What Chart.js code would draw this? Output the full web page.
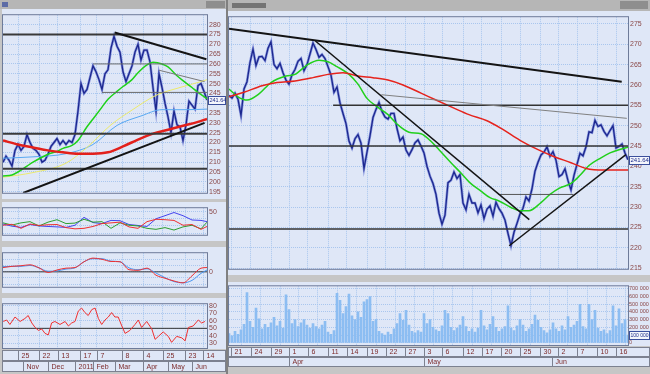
<!DOCTYPE html>
<html>
<head>
<meta charset="utf-8">
<script src="https://cdn.jsdelivr.net/npm/chart.js@4.4.1/dist/chart.umd.min.js"></script>
<style>
    html, body { margin: 0; padding: 0; }
    body { width: 650px; height: 374px; background: #c6c6c6; position: relative; overflow: hidden; }
    canvas { position: absolute; }
    .chrome { position: absolute; }
</style>
</head>
<body>
<!-- window chrome -->
<div class="chrome" style="left:0;top:0;width:226px;height:9px;background:#b6b6b6"></div>
<div class="chrome" style="left:2px;top:2px;width:6px;height:5px;background:#5d6ca6"></div>
<div class="chrome" style="left:206px;top:1px;width:19px;height:7px;background:#8e8e8e"></div>
<div class="chrome" style="left:226px;top:0;width:2px;height:374px;background:#808080"></div>
<div class="chrome" style="left:228px;top:0;width:422px;height:11px;background:#b6b6b6"></div>
<div class="chrome" style="left:232px;top:3px;width:34px;height:5px;background:#747474"></div>
<div class="chrome" style="left:620px;top:1px;width:28px;height:8px;background:#8e8e8e"></div>

<canvas id="leftPrice" width="224" height="190" style="left:2px;top:9px"></canvas>
<canvas id="leftInd1" width="224" height="39" style="left:2px;top:202px"></canvas>
<canvas id="leftInd2" width="224" height="46" style="left:2px;top:247px"></canvas>
<canvas id="leftInd3" width="224" height="76" style="left:2px;top:298px"></canvas>
<canvas id="rightPrice" width="422" height="264" style="left:228px;top:11px"></canvas>
<canvas id="rightVol" width="422" height="88" style="left:228px;top:282px"></canvas>

<script>
// --- Left window (daily, Oct - Jun) ---
const leftPrice = [210,213,211,208,216,219,216,218,224,220,
    217,216,214,210,211,214,218,220,222,219,
    221,219,221,220,224,236,250,245,247,253,
    259,256,252,247,255,257,268,274,269,266,
    256,251,255,259,266,270,262,267,267,261,
    248,236,255,248,240,233,225,236,229,228,
    221,229,241,239,237,249,250,246,241.64];
const leftRedMa = [[0,221],[5,219],[10,217.5],[15,216],[20,215],[25,214.3],[30,214.3],[35,215],[40,218],[45,221.5],[50,224.5],[55,226.5],[60,228.5],[65,230.5],[68,232]];
const leftGreenMa = [[0,203],[3,203.5],[5,205],[8,208],[10,210],[13,212.5],[15,214],[18,215.5],[20,217],[23,218.5],[25,221],[28,228],[30,232],[33,238],[35,242],[38,246],[40,248.5],[43,252],[45,255.5],[48,259.5],[50,260.8],[53,260],[55,258.5],[58,254],[60,251.5],[63,248],[65,245.5],[68,242.3]];
const leftYellowMa = [[0,202.3],[10,204.7],[21,209.5],[28,217.5],[36,229],[43,236.5],[51,244],[59,248],[66,251],[68,252]];
const leftBlueMa = [[0,212],[10,212.7],[21,214.3],[30,219],[38,228.7],[46,233.5],[53,236.7],[61,236.7],[68,237]];
const leftMajorLevels = [275, 224.5, 206.6];
const leftMinorLevels = [[30, 260], [33, 245.5]];          // [from index, price]
const leftTrends = [[37.2, 276, 67.8, 262.4], [6.7, 194.3, 67.2, 230]];
const leftThinTrends = [[52, 256.8, 67.2, 251]];
const leftPriceTicks = [195,200,205,210,215,220,225,230,235,240,245,250,255,260,265,270,275,280];

// indicator panels (same index as leftPrice)
const indIdx = [0,3,6,9,12,15,18,21,24,27,30,33,36,39,42,45,48,51,54,57,60,63,66,68];
const ind1Blue = [32.7,29.7,28,32,30,29.3,28.7,28,31,42,34.7,33.3,37.7,37.3,32,30.7,29.3,40,44.3,48.7,44.3,38.3,37.7,36];
const ind1Red = [31,32.3,26.7,32.7,30.7,31.7,32,27.7,26,26.7,29.3,33.3,34.3,35.3,28.7,26.7,36,39.3,38.7,37.7,31,32,25.3,29.3];
const ind1Green = [34.3,31.3,34.3,36,30,35.3,38.7,33.3,34,39.3,35.3,36,26.7,34.3,31,30,26.7,25.3,27.7,24.3,28.7,31,26,35.3];
const ind1Ticks = [20, 30, 40, 50];
const ind1Labeled = [50];
const ind2Red = [1.4,1.8,2,2.3,1.3,-0.2,0.6,1.2,1.4,3.3,4.5,4.1,3.4,3.3,0.7,0.5,1.2,-1.1,-2.1,-3,-3.6,-1.3,1.2,1.4];
const ind2Blue = [1.7,1.8,1.8,2.1,1.3,0.2,0.3,0.9,1.3,3.3,4.3,4.3,3.5,3.3,1.3,0.7,1,-0.4,-1.9,-3.2,-3.6,-2.8,-0.5,0.6];
const ind2Ticks = [-4, -2, 0, 2, 4];
const ind2Labeled = [0];
const rsi = [[0.1,59.2],[1.2,61.2],[2.3,55.2],[4,65.2],[5.7,59.2],[7.3,63.2],[8.4,67.2],[9.6,57.2],[10.7,51.2],[11.8,47.2],
    [12.9,49.2],[14,43.2],[15.1,41.2],[16.2,57.2],[17.3,59.2],[19,55.2],[20.7,59.2],[21.8,53.2],[22.9,57.2],[24,59.2],
    [25.1,73.2],[26.2,77.2],[27.3,71.2],[28.4,67.2],[29.6,75.2],[30.7,77.2],[31.8,63.2],[32.9,55.2],[34,61.2],[35.1,65.2],
    [36.2,71.2],[37.3,65.2],[38.4,65.2],[39.6,53.2],[40.7,43.2],[42.3,47.2],[44,55.2],[45.1,61.2],[46.2,51.2],[47.9,59.2],
    [49.6,49.2],[50.7,35.2],[51.8,39.2],[53.4,45.2],[55.1,39.2],[56.2,31.2],[57.9,39.2],[59.6,37.2],[60.7,33.2],[61.8,51.2],
    [63.4,53.2],[65.1,61.2],[66.2,57.2],[67.3,59.2]];
const rsiTicks = [30, 40, 50, 60, 70, 80];
const rsiMid = 50;

const leftDays = ['25','22','13','17','7','8','4','25','23','14'];
const leftDayIdx = [5, 12, 18.3, 25.7, 31.3, 39.7, 46.7, 53.3, 60.7, 66.7];
const leftMonths = ['Nov','Dec','2011','Feb','Mar','Apr','May','Jun'];
const leftMonthIdx = [6.7, 15, 24, 30, 37.3, 46.7, 55, 63];

// --- Right window (intraday, Mar - Jun) ---
const rightPrice = [257.4,256.8,258,256.5,252.5,259,260.8,265.5,268.8,264.8,
    266.9,267,266,269,270.6,265,264,265.3,263,261.2,
    260.2,262.5,263.8,265.8,266.5,263.5,265,267.6,270.3,268.7,
    266.8,267.5,266.5,264.5,262.4,258.2,259.5,255.6,253,250.5,
    246.2,244.5,246.8,247.8,245.7,239.5,243.5,247.5,252,254,
    255.7,253.5,252.1,251.6,253,253,249.3,246.3,247.2,244,
    242.7,244.1,245.8,246.5,245,243.3,240,237.6,235.8,233.1,
    228.5,225.8,228,236,236.6,238.6,237,238,231,229.3,
    233.1,231,231,228.6,230.5,227.2,229.5,230.3,227.8,231.2,
    229.6,228.5,226.8,223.5,220.5,223.8,226,228.3,229.7,232.5,
    231.5,234.5,238.8,241,242.8,243.5,244.8,242.5,243.6,241.5,
    237.5,238,239.4,236.5,234.2,237.8,240.5,243.2,242.6,244.8,
    248.5,248.3,251.3,249.8,250.2,248.6,247.5,248.8,250,244.5,
    244.9,245.5,243.3,241.64];
const rightRedMa = [[0,257.1],[5,258.2],[11,259.8],[16,260.6],[22,261],[28,261.8],[33,262.6],[38,263],[43,262.2],[48,261.8],[53,261.2],[58,260],[64,258],[69,256.3],[75,254.3],[80,252.7],[86,251.2],[91,249.2],[97,246.4],[103,244.1],[108,242.5],[114,240.9],[119,239.5],[125,239.1],[133,239.1]];
const rightGreenMa = [[0,259],[3,257.1],[6,256.3],[10,257.8],[14,260.6],[19,262.2],[22,262.6],[26,264.9],[30,266.1],[33,265.7],[36,264.5],[40,262.6],[43,260.2],[46,256.7],[50,254.3],[53,252.7],[56,250.4],[60,248.4],[64,248],[67,246.4],[70,244.1],[74,240.9],[77,238.6],[80,236.2],[84,233.9],[87,232.3],[90,231.5],[94,229.9],[97,229.1],[100,229.1],[104,231.1],[107,233.1],[110,234.6],[114,235.8],[117,237.8],[120,240.2],[124,242.1],[127,243.3],[130,244.1],[133,244.7]];
const rightMajorLevels = [245, 224.6];
const rightMinorLevels = [[34.7, 133, 255]];             // [from, to, price]
const rightShortLevels = [[89.8, 114.8, 233.1]];
const rightTrends = [[0, 273.8, 130.9, 260.8], [28.8, 270.8, 100.1, 226.9], [93.4, 220.5, 132.3, 242.9]];
const rightThinTrends = [[50.8, 257.6, 132.6, 251.8]];
const rightPriceTicks = [215,220,225,230,235,240,245,250,255,260,265,270,275];

// volume in thousands
const rightVolume = [120,90,150,110,170,240,650,280,200,450,
    310,180,240,200,260,330,220,280,190,620,
    430,250,300,210,260,300,230,190,250,210,
    180,230,280,140,110,160,640,550,380,470,
    630,350,300,400,330,530,560,600,280,300,
    150,120,100,140,110,180,250,380,290,420,
    230,150,130,160,140,380,250,300,200,170,
    150,220,420,380,200,160,190,230,340,210,
    150,180,140,190,420,220,170,240,340,200,
    150,180,210,480,190,160,220,300,230,150,
    180,240,360,290,200,160,130,170,260,180,
    150,220,170,340,200,230,280,500,210,180,
    500,300,420,190,150,170,120,160,480,220,
    440,250,300,100];
const volTicks = [0,100,200,300,400,500,600,700];

const rightDays = ['21','24','29','1','6','11','14','19','22','27','3','6','12','17','20','25','30','2','7','10','16'];
const rightDayIdx = [0.7,7.3,14,20,26.3,33,39.3,46,52.3,58.7,65,71,78,84.3,90.7,97,103.7,109.7,116,122.7,129];
const rightMonths = ['Apr','May','Jun'];
const rightMonthIdx = [20, 65, 107.7];

// --- styling ---
const PLOT_BG = '#dfe7f7';
const GRID = '#a9c6ee';
const TICK_COLOR = '#8a4848';
const FONT = 'Liberation Sans';

const pts = arr => arr.map((v, i) => ({ x: i, y: v }));
const pairs = arr => arr.map(([x, y]) => ({ x, y }));

function line(data, color, width, order, smooth) {
    return {
        type: 'line', data, borderColor: color, borderWidth: width, pointRadius: 0,
        fill: false, tension: 0, order, cubicInterpolationMode: smooth ? 'monotone' : 'default'
    };
}
function seg(x1, y1, x2, y2, color, width, order) {
    return line([{ x: x1, y: y1 }, { x: x2, y: y2 }], color, width, order);
}

// background + frame for each panel
const panelPlugin = {
    id: 'panel',
    beforeDraw(chart) {
        const { ctx, width, height } = chart;
        ctx.save();
        ctx.fillStyle = PLOT_BG;
        ctx.fillRect(0, 0, width, height);
        ctx.restore();
    },
    afterDraw(chart) {
        const { ctx, chartArea: a } = chart;
        ctx.save();
        ctx.strokeStyle = '#6e7b99';
        ctx.lineWidth = 1;
        ctx.strokeRect(a.left - 0.5, a.top - 0.5, a.right - a.left + 1, a.bottom - a.top + 1);
        ctx.restore();
    }
};

// boxed label with the last value on the value axis
const lastTagPlugin = {
    id: 'lastTag',
    afterDraw(chart, args, o) {
        const { ctx, chartArea: a, scales: { y }, width } = chart;
        const py = Math.round(y.getPixelForValue(o.value));
        ctx.save();
        ctx.font = `${o.size || 6}px "${FONT}"`;
        const w = Math.min(Math.ceil(ctx.measureText(o.text).width) + 3, width - a.right - 1);
        ctx.fillStyle = '#f4f6fc';
        ctx.fillRect(a.right + 1, py - 4, w, 9);
        ctx.strokeStyle = '#3a4f9c';
        ctx.strokeRect(a.right + 1.5, py - 3.5, w - 1, 8);
        ctx.fillStyle = '#1d2c8a';
        ctx.textBaseline = 'middle';
        ctx.fillText(o.text, a.right + 2.5, py + 0.5);
        ctx.restore();
    }
};

// two boxed rows of day / month labels under the bottom panel
const dateAxisPlugin = {
    id: 'dateAxis',
    afterDraw(chart, args, o) {
        const { ctx, chartArea: a, scales: { x }, width, height } = chart;
        const top = a.bottom + o.gap;
        ctx.save();
        ctx.fillStyle = '#c6c6c6';
        ctx.fillRect(0, a.bottom + 1, width, height - a.bottom - 1);
        ctx.fillStyle = PLOT_BG;
        ctx.fillRect(a.left - 1, top, width - a.left + 1, o.rowH * 2);
        ctx.strokeStyle = '#7c8190';
        ctx.lineWidth = 1;
        ctx.font = `7px "${FONT}"`;
        ctx.textBaseline = 'middle';
        [[top, o.days, o.dayIdx], [top + o.rowH, o.months, o.monthIdx]].forEach(([ry, labels, idx]) => {
            ctx.strokeRect(a.left - 0.5, ry + 0.5, width - a.left, o.rowH - 1);
            idx.forEach((v, k) => {
                const px = Math.round(x.getPixelForValue(v)) + 0.5;
                ctx.beginPath();
                ctx.moveTo(px, ry);
                ctx.lineTo(px, ry + o.rowH);
                ctx.stroke();
                ctx.fillStyle = '#7c2a2a';
                ctx.fillText(labels[k], px + 3, ry + o.rowH / 2 + 0.5);
            });
        });
        ctx.restore();
    }
};

function panelOptions(cfg) {
    return {
        responsive: false,
        animation: false,
        devicePixelRatio: 1,
        events: [],
        layout: { padding: { left: 1, top: 1, right: 0, bottom: cfg.bottomPad || 1 } },
        plugins: {
            legend: { display: false },
            tooltip: { enabled: false },
            lastTag: cfg.tag || {},
            dateAxis: cfg.dates || {}
        },
        scales: {
            x: {
                type: 'linear', min: 0, max: cfg.xMax, offset: false,
                afterBuildTicks: s => { s.ticks = cfg.xGrid.map(v => ({ value: v })); },
                afterFit: s => { s.height = 0; },
                ticks: { display: false },
                grid: { color: GRID, drawTicks: false },
                border: { display: false, dash: [1, 1] }
            },
            y: {
                position: 'right', min: cfg.yMin, max: cfg.yMax,
                afterBuildTicks: s => { s.ticks = cfg.yTicks.map(v => ({ value: v })); },
                afterFit: s => { s.width = cfg.axisWidth; },
                ticks: {
                    autoSkip: false, padding: cfg.tickPad || 2, color: TICK_COLOR,
                    font: { family: FONT, size: cfg.tickSize || 7 },
                    callback: cfg.yLabel || (v => String(v))
                },
                grid: { color: GRID, drawTicks: false },
                border: { display: false, dash: [1, 1] }
            }
        }
    };
}

// --- left price ---
const leftSets = [];
leftTrends.forEach(t => leftSets.push(seg(t[0], t[1], t[2], t[3], '#141414', 2, 0)));
leftThinTrends.forEach(t => leftSets.push(seg(t[0], t[1], t[2], t[3], '#7a7a7a', 1, 0)));
leftMajorLevels.forEach(l => leftSets.push(seg(0, l, 68, l, '#3a3a3a', 2, 1)));
leftMinorLevels.forEach(l => leftSets.push(seg(l[0], l[1], 68, l[1], '#6a6a6a', 1, 1)));
leftSets.push(line(pairs(leftRedMa), '#e3201b', 2.5, 2, true));
leftSets.push(line(pairs(leftGreenMa), '#1fd21a', 1.5, 2, true));
leftSets.push(line(pairs(leftYellowMa), '#ecea6c', 1, 2, true));
leftSets.push(line(pairs(leftBlueMa), '#58a8f2', 1, 2, true));
leftSets.push(line(pts(leftPrice), '#1c278e', 1.3, 3));
leftSets.push(line(pts(leftPrice), '#8896de', 2.6, 4));

const leftLast = leftPrice[leftPrice.length - 1];
new Chart(document.getElementById('leftPrice'), {
    type: 'line',
    data: { datasets: leftSets },
    options: panelOptions({
        xMax: 68, xGrid: leftDayIdx, yMin: 194.4, yMax: 284.8, yTicks: leftPriceTicks, axisWidth: 19,
        tag: { value: leftLast, text: leftLast.toFixed(2), size: 5.5 }
    }),
    plugins: [panelPlugin, lastTagPlugin]
});

// --- left indicators ---
const onIdx = vals => vals.map((v, k) => ({ x: indIdx[k], y: v }));
new Chart(document.getElementById('leftInd1'), {
    type: 'line',
    data: { datasets: [
        line(onIdx(ind1Red), '#ef3030', 1, 0),
        line(onIdx(ind1Green), '#2e9e2e', 1, 1),
        line(onIdx(ind1Blue), '#4444ee', 1, 2)
    ] },
    options: panelOptions({
        xMax: 68, xGrid: leftDayIdx, yMin: 17.7, yMax: 54.7, yTicks: ind1Ticks, axisWidth: 19,
        yLabel: v => ind1Labeled.includes(v) ? String(v) : ''
    }),
    plugins: [panelPlugin]
});

new Chart(document.getElementById('leftInd2'), {
    type: 'line',
    data: { datasets: [
        seg(0, 0, 68, 0, '#333333', 1, 2),
        line(onIdx(ind2Red), '#ef3030', 1, 0, true),
        line(onIdx(ind2Blue), '#4a96f0', 1, 1, true)
    ] },
    options: panelOptions({
        xMax: 68, xGrid: leftDayIdx, yMin: -4.9, yMax: 6.1, yTicks: ind2Ticks, axisWidth: 19,
        yLabel: v => ind2Labeled.includes(v) ? String(v) : ''
    }),
    plugins: [panelPlugin]
});

new Chart(document.getElementById('leftInd3'), {
    type: 'line',
    data: { datasets: [
        seg(0, rsiMid, 68, rsiMid, '#333333', 1, 1),
        line(pairs(rsi), '#ef3030', 1, 0)
    ] },
    options: panelOptions({
        xMax: 68, xGrid: leftDayIdx, yMin: 23.6, yMax: 82.4, yTicks: rsiTicks, axisWidth: 19, bottomPad: 26,
        dates: { gap: 2, rowH: 11, days: leftDays, dayIdx: leftDayIdx, months: leftMonths, monthIdx: leftMonthIdx }
    }),
    plugins: [panelPlugin, dateAxisPlugin]
});

// --- right price ---
const rightSets = [];
rightTrends.forEach((t, k) => rightSets.push(seg(t[0], t[1], t[2], t[3], '#141414', k === 0 ? 2 : 1.5, 0)));
rightThinTrends.forEach(t => rightSets.push(seg(t[0], t[1], t[2], t[3], '#808080', 1, 0)));
rightMajorLevels.forEach(l => rightSets.push(seg(0, l, 133, l, '#333333', 1.5, 1)));
rightMinorLevels.forEach(l => rightSets.push(seg(l[0], l[2], l[1], l[2], '#333333', 1.5, 1)));
rightShortLevels.forEach(l => rightSets.push(seg(l[0], l[2], l[1], l[2], '#555555', 1, 1)));
rightSets.push(line(pairs(rightRedMa), '#e6231c', 1.5, 2, true));
rightSets.push(line(pairs(rightGreenMa), '#22d01c', 1.5, 2, true));
rightSets.push(line(pts(rightPrice), '#1c278e', 1.3, 3));
rightSets.push(line(pts(rightPrice), '#8896de', 2.6, 4));

const rightLast = rightPrice[rightPrice.length - 1];
new Chart(document.getElementById('rightPrice'), {
    type: 'line',
    data: { datasets: rightSets },
    options: panelOptions({
        xMax: 133, xGrid: rightDayIdx, yMin: 214.83, yMax: 276.65, yTicks: rightPriceTicks, axisWidth: 22,
        tag: { value: rightLast, text: rightLast.toFixed(2), size: 6 }
    }),
    plugins: [panelPlugin, lastTagPlugin]
});

// --- right volume ---
const volLabel = v => v === 0 ? '0' : v + ' 000';
const volLast = rightVolume[rightVolume.length - 1];
new Chart(document.getElementById('rightVol'), {
    type: 'bar',
    data: { datasets: [{
        data: pts(rightVolume), backgroundColor: '#8cbdf2', barThickness: 2, borderWidth: 0
    }] },
    options: panelOptions({
        xMax: 133, xGrid: rightDayIdx, yMin: -28, yMax: 732, yTicks: volTicks, axisWidth: 22, bottomPad: 25,
        tickSize: 5.5, tickPad: 1, yLabel: volLabel,
        tag: { value: volLast, text: volLabel(volLast), size: 5 },
        dates: { gap: 2, rowH: 10, days: rightDays, dayIdx: rightDayIdx, months: rightMonths, monthIdx: rightMonthIdx }
    }),
    plugins: [panelPlugin, lastTagPlugin, dateAxisPlugin]
});
</script>
</body>
</html>
